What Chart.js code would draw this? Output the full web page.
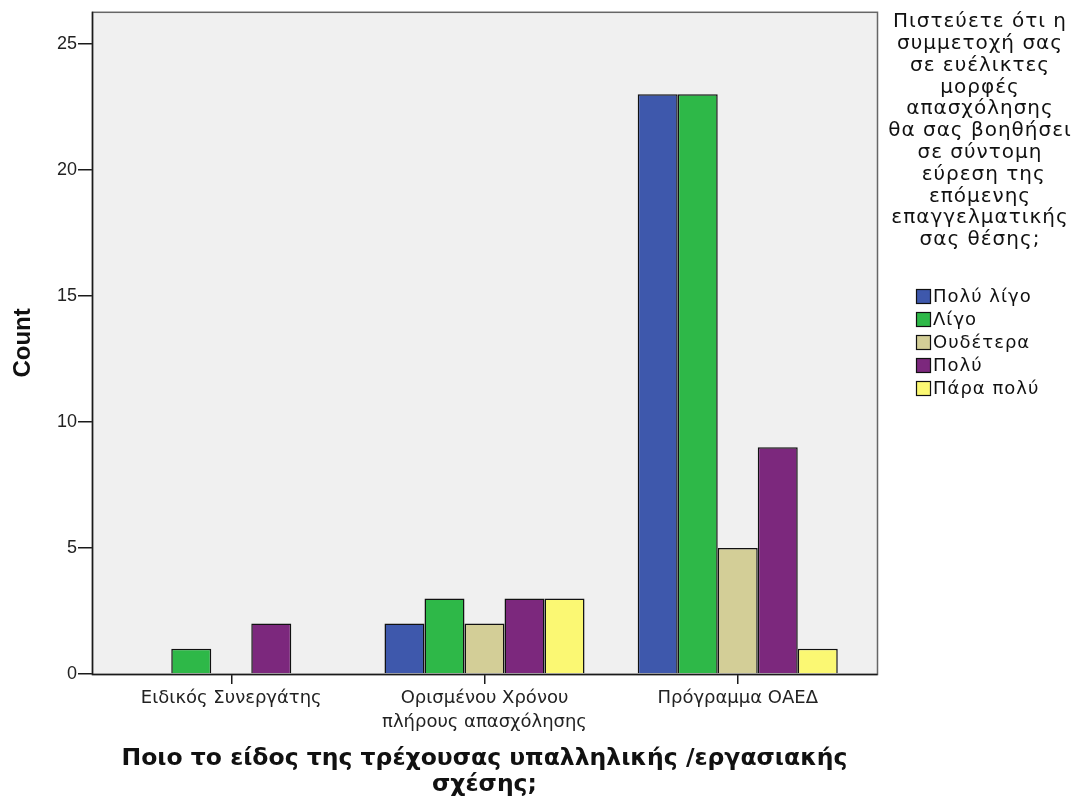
<!DOCTYPE html>
<html>
<head>
<meta charset="utf-8">
<script src="https://cdn.jsdelivr.net/npm/chart.js@4.4.1/dist/chart.umd.min.js"></script>
<style>
  html, body { margin: 0; padding: 0; background: #ffffff; }
  #wrap { width: 1079px; height: 798px; }
</style>
</head>
<body>
<div id="wrap"><canvas id="chart" width="1079" height="798"></canvas></div>
<script>
// Employment relationship categories (x axis)
const categories = [
  ['Ειδικός Συνεργάτης'],
  ['Ορισμένου Χρόνου', 'πλήρους απασχόλησης'],
  ['Πρόγραμμα ΟΑΕΔ']
];

// Answer groups (legend) and their counts per category
const seriesNames = ['Πολύ λίγο', 'Λίγο', 'Ουδέτερα', 'Πολύ', 'Πάρα πολύ'];
const polyLigo  = [0, 2, 23];
const ligo      = [1, 3, 23];
const oudetera  = [0, 2, 5];
const poly      = [2, 3, 9];
const paraPoly  = [0, 3, 1];
const seriesColors = ['#3e58ac', '#2eb848', '#d3ce97', '#7c287d', '#fbf873'];

const yTicks = [0, 5, 10, 15, 20, 25];

const legendTitle = [
  'Πιστεύετε ότι η',
  'συμμετοχή σας',
  'σε ευέλικτες',
  'μορφές',
  'απασχόλησης',
  'θα σας βοηθήσει',
  'σε σύντομη',
  ' εύρεση της',
  'επόμενης',
  'επαγγελματικής',
  'σας θέσης;'
];

const xTitle = ['Ποιο το είδος της τρέχουσας υπαλληλικής /εργασιακής', 'σχέσης;'];
const yTitle = 'Count';

const LATIN = '"Liberation Sans", Arial, sans-serif';
const GREEK = '"DejaVu Sans", "Liberation Sans", sans-serif';
const seriesValues = [polyLigo, ligo, oudetera, poly, paraPoly];

const datasets = seriesNames.map((name, i) => ({
  label: name,
  data: seriesValues[i].map((v, k) => ({ x: k, y: v })),
  backgroundColor: seriesColors[i],
  borderColor: '#111111',
  borderWidth: 1.5,
  borderSkipped: 'start',
  categoryPercentage: 0.79,
  barPercentage: 1.0
}));

// Plot frame background and border
const framePlugin = {
  id: 'frame',
  beforeDraw(chart) {
    const { ctx, chartArea: a } = chart;
    ctx.save();
    ctx.fillStyle = '#f0f0f0';
    ctx.fillRect(a.left, a.top, a.right - a.left, a.bottom - a.top);
    ctx.restore();
  },
  afterDatasetsDraw(chart) {
    const { ctx, chartArea: a } = chart;
    ctx.save();
    ctx.strokeStyle = '#666666';
    ctx.lineWidth = 1.5;
    ctx.strokeRect(a.left + 0.5, a.top + 0.5, a.right - a.left, a.bottom - a.top);
    ctx.strokeStyle = '#1a1a1a';
    ctx.lineWidth = 1.5;
    ctx.beginPath();
    ctx.moveTo(a.left + 0.5, a.top);
    ctx.lineTo(a.left + 0.5, a.bottom + 0.5);
    ctx.lineTo(a.right + 0.5, a.bottom + 0.5);
    ctx.stroke();
    ctx.restore();
  }
};

// Legend on the right: wrapped title and colour boxes
const sideLegendPlugin = {
  id: 'sideLegend',
  afterDraw(chart) {
    const { ctx } = chart;
    ctx.save();
    ctx.fillStyle = '#111111';
    ctx.font = '20px ' + GREEK;
    if ('letterSpacing' in ctx) ctx.letterSpacing = '1px';
    ctx.textAlign = 'center';
    ctx.textBaseline = 'middle';
    legendTitle.forEach((line, i) => {
      ctx.fillText(line, 980, 22 + i * 21.8);
    });
    ctx.textAlign = 'left';
    ctx.font = '18px ' + GREEK;
    chart.data.datasets.forEach((ds, i) => {
      const y = 296 + i * 23;
      ctx.fillStyle = ds.backgroundColor;
      ctx.fillRect(916, y - 7, 14, 14);
      ctx.strokeStyle = '#111111';
      ctx.lineWidth = 1.2;
      ctx.strokeRect(916.5, y - 6.5, 14, 14);
      ctx.fillStyle = '#111111';
      ctx.fillText(ds.label, 933, y + 1);
    });
    ctx.restore();
  }
};

new Chart(document.getElementById('chart'), {
  type: 'bar',
  data: { datasets },
  plugins: [framePlugin, sideLegendPlugin],
  options: {
    responsive: false,
    animation: false,
    layout: { padding: { top: 11, right: 202, left: 0, bottom: 0 } },
    plugins: {
      legend: { display: false },
      tooltip: { enabled: false }
    },
    scales: {
      x: {
        type: 'linear',
        min: -0.55,
        max: 2.55,
        offset: false,
        afterFit(scale) { scale.height = 124; },
        afterBuildTicks(scale) { scale.ticks = categories.map((c, i) => ({ value: i })); },
        ticks: {
          stepSize: 1,
          includeBounds: false,
          autoSkip: false,
          maxRotation: 0,
          padding: 3,
          color: '#222222',
          font: { family: GREEK, size: 18, lineHeight: 1.3 },
          callback: (v) => categories[v]
        },
        grid: {
          display: true,
          offset: false,
          drawOnChartArea: false,
          drawTicks: true,
          tickLength: 10,
          color: '#1a1a1a',
          lineWidth: 1.5
        },
        border: { display: false },
        title: {
          display: true,
          text: xTitle,
          color: '#111111',
          font: { family: GREEK, size: 23.5, weight: 'bold', lineHeight: 1.07 },
          padding: { top: 0, bottom: 1 }
        }
      },
      y: {
        min: 0,
        max: 26.27,
        afterFit(scale) { scale.width = 92; },
        afterBuildTicks(scale) { scale.ticks = yTicks.map(v => ({ value: v })); },
        ticks: {
          includeBounds: false,
          padding: 1,
          color: '#222222',
          font: { family: LATIN, size: 18 }
        },
        grid: {
          display: true,
          drawOnChartArea: false,
          drawTicks: true,
          tickLength: 14,
          color: '#1a1a1a',
          lineWidth: 1.5
        },
        border: { display: false },
        title: {
          display: true,
          text: yTitle,
          color: '#111111',
          font: { family: LATIN, size: 24, weight: 'bold', lineHeight: 1.2 },
          padding: { top: 9, bottom: 0 }
        }
      }
    }
  }
});
</script>
</body>
</html>
